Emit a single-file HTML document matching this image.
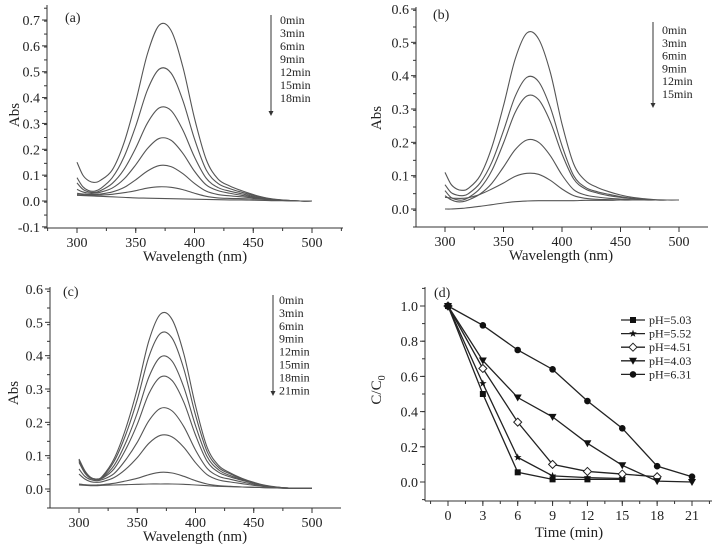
<!DOCTYPE html>
<html><head><meta charset="utf-8">
<style>
html,body{margin:0;padding:0;background:#fff;}
svg{display:block;}
svg text{font-family:"Liberation Serif","Times New Roman",serif;}
</style></head>
<body>
<svg id="fig" width="718" height="545" viewBox="0 0 718 545" font-family="Liberation Serif, Times New Roman, serif" xmlns="http://www.w3.org/2000/svg"></svg>
<script>
// ---------- data ----------
const wavelengths = [300,305,310,315,320,330,340,350,360,370,380,390,400,410,420,430,440,450,460,470,480,490,500];
const timesA = ["0min","3min","6min","9min","12min","15min","18min"];
const seriesA = [
 [0.150,0.100,0.078,0.072,0.080,0.120,0.225,0.385,0.570,0.680,0.660,0.520,0.320,0.160,0.085,0.058,0.040,0.025,0.013,0.006,0.002,0.000,0.000],
 [0.090,0.055,0.040,0.038,0.048,0.090,0.170,0.290,0.430,0.510,0.495,0.390,0.240,0.120,0.068,0.048,0.034,0.022,0.012,0.005,0.002,0.000,0.000],
 [0.070,0.045,0.035,0.033,0.040,0.068,0.122,0.205,0.302,0.360,0.350,0.275,0.170,0.088,0.052,0.038,0.028,0.018,0.010,0.005,0.002,0.000,0.000],
 [0.045,0.035,0.030,0.030,0.034,0.050,0.085,0.140,0.203,0.242,0.235,0.185,0.115,0.062,0.040,0.030,0.022,0.015,0.008,0.004,0.001,0.000,0.000],
 [0.030,0.027,0.025,0.025,0.027,0.035,0.052,0.082,0.116,0.137,0.133,0.106,0.068,0.038,0.025,0.020,0.016,0.012,0.007,0.003,0.001,0.000,0.000],
 [0.025,0.023,0.022,0.022,0.023,0.026,0.032,0.040,0.050,0.055,0.053,0.044,0.030,0.018,0.012,0.010,0.009,0.008,0.006,0.003,0.001,0.000,0.000],
 [0.022,0.021,0.020,0.019,0.018,0.016,0.014,0.012,0.011,0.010,0.009,0.008,0.007,0.006,0.005,0.004,0.004,0.003,0.002,0.001,0.001,0.000,0.000]
];
const timesB = ["0min","3min","6min","9min","12min","15min"];
const seriesB = [
 [0.110,0.075,0.060,0.056,0.062,0.100,0.185,0.310,0.450,0.528,0.510,0.410,0.255,0.135,0.085,0.065,0.052,0.042,0.035,0.031,0.028,0.027,0.027],
 [0.073,0.050,0.042,0.040,0.046,0.078,0.140,0.235,0.338,0.395,0.382,0.305,0.190,0.100,0.065,0.052,0.044,0.037,0.032,0.029,0.027,0.027,0.027],
 [0.055,0.035,0.028,0.027,0.034,0.062,0.115,0.198,0.290,0.339,0.328,0.262,0.165,0.090,0.060,0.048,0.040,0.035,0.031,0.029,0.027,0.027,0.027],
 [0.040,0.028,0.022,0.022,0.027,0.045,0.077,0.126,0.178,0.207,0.200,0.160,0.102,0.058,0.042,0.036,0.032,0.030,0.028,0.027,0.027,0.027,0.027],
 [0.035,0.033,0.032,0.032,0.034,0.044,0.060,0.078,0.098,0.107,0.104,0.086,0.060,0.040,0.032,0.029,0.028,0.027,0.027,0.027,0.027,0.027,0.027],
 [0.000,0.000,0.001,0.002,0.004,0.008,0.013,0.018,0.022,0.024,0.025,0.025,0.025,0.025,0.026,0.026,0.026,0.027,0.027,0.027,0.027,0.027,0.027]
];
const timesC = ["0min","3min","6min","9min","12min","15min","18min","21min"];
const seriesC = [
 [0.090,0.055,0.035,0.030,0.038,0.090,0.180,0.300,0.445,0.525,0.508,0.405,0.250,0.125,0.070,0.048,0.032,0.020,0.011,0.006,0.003,0.002,0.002],
 [0.088,0.053,0.034,0.030,0.036,0.082,0.162,0.268,0.397,0.467,0.452,0.360,0.222,0.112,0.064,0.045,0.030,0.019,0.010,0.005,0.003,0.002,0.002],
 [0.085,0.050,0.033,0.029,0.034,0.070,0.138,0.228,0.336,0.396,0.383,0.305,0.190,0.097,0.057,0.040,0.028,0.018,0.010,0.005,0.003,0.002,0.002],
 [0.080,0.048,0.032,0.028,0.032,0.060,0.118,0.194,0.286,0.336,0.325,0.260,0.162,0.083,0.050,0.036,0.026,0.017,0.009,0.005,0.003,0.002,0.002],
 [0.060,0.038,0.028,0.025,0.028,0.046,0.087,0.140,0.205,0.242,0.234,0.187,0.117,0.062,0.038,0.029,0.021,0.014,0.008,0.004,0.002,0.002,0.002],
 [0.045,0.030,0.022,0.020,0.022,0.034,0.059,0.094,0.137,0.161,0.156,0.125,0.079,0.043,0.027,0.021,0.016,0.011,0.007,0.004,0.002,0.002,0.002],
 [0.015,0.013,0.012,0.012,0.013,0.017,0.024,0.032,0.043,0.050,0.048,0.038,0.025,0.015,0.010,0.008,0.006,0.005,0.004,0.003,0.002,0.002,0.002],
 [0.012,0.011,0.010,0.010,0.011,0.012,0.013,0.014,0.015,0.015,0.015,0.014,0.012,0.010,0.008,0.007,0.006,0.005,0.004,0.003,0.002,0.002,0.002]
];
const timeD = [0,3,6,9,12,15,18,21];
const labelsD = ["pH=5.03","pH=5.52","pH=4.51","pH=4.03","pH=6.31"];
const markersD = ["square","star","diamond","tri","circle"];
const pH503 = [1.0,0.50,0.055,0.015,0.015,0.015];
const pH552 = [1.0,0.56,0.14,0.035,0.025,0.02];
const pH451 = [1.0,0.645,0.34,0.10,0.06,0.045,0.03];
const pH403 = [1.0,0.69,0.48,0.37,0.22,0.095,0.005,0.0];
const pH631 = [1.0,0.89,0.75,0.64,0.46,0.305,0.09,0.03];
const xTicksW = [300,350,400,450,500];
const yTicksA = [-0.1,0,0.1,0.2,0.3,0.4,0.5,0.6,0.7];
const yTicksBC = [0,0.1,0.2,0.3,0.4,0.5,0.6];
const xTicksD = [0,3,6,9,12,15,18,21];
const yTicksD = [0,0.2,0.4,0.6,0.8,1.0];

// ---------- helpers ----------
const NS="http://www.w3.org/2000/svg";
const FONT="Liberation Serif, Times New Roman, serif";
const svg=document.getElementById('fig');
function mk(tag,attrs,parent){const e=document.createElementNS(NS,tag);for(const k in attrs)e.setAttribute(k,attrs[k]);if(tag==='text')e.setAttribute('font-family',FONT);(parent||svg).appendChild(e);return e;}
function lin(d0,d1,r0,r1){return v=>r0+(v-d0)*(r1-r0)/(d1-d0);}
function smoothPath(pts){
  let d=`M${pts[0][0].toFixed(2)},${pts[0][1].toFixed(2)}`;
  for(let i=0;i<pts.length-1;i++){
    const p0=pts[Math.max(0,i-1)],p1=pts[i],p2=pts[i+1],p3=pts[Math.min(pts.length-1,i+2)];
    const c1=[p1[0]+(p2[0]-p0[0])/6,p1[1]+(p2[1]-p0[1])/6];
    const c2=[p2[0]-(p3[0]-p1[0])/6,p2[1]-(p3[1]-p1[1])/6];
    d+=`C${c1[0].toFixed(2)},${c1[1].toFixed(2)} ${c2[0].toFixed(2)},${c2[1].toFixed(2)} ${p2[0].toFixed(2)},${p2[1].toFixed(2)}`;
  }
  return d;
}
function axes(g,o){
  const ax=mk('g',{},g);
  
  
  mk('line',{x1:o.left,y1:o.bottom,x2:o.right,y2:o.bottom,stroke:'#333','stroke-width':1},ax);
  mk('line',{x1:o.left,y1:o.top,x2:o.left,y2:o.bottom,stroke:'#333','stroke-width':1},ax);
  for(const v of o.xMinor){const x=o.sx(v);if(x<o.left||x>o.right)continue;mk('line',{x1:x,y1:o.bottom,x2:x,y2:o.bottom+3,stroke:'#333'},ax);}
  for(const v of o.yMinor){const y=o.sy(v);if(y<o.top||y>o.bottom)continue;mk('line',{x1:o.left-3,y1:y,x2:o.left,y2:y,stroke:'#333'},ax);}
  for(const v of o.xt){const x=o.sx(v);mk('line',{x1:x,y1:o.bottom,x2:x,y2:o.bottom+5,stroke:'#333'},ax);
    const t=mk('text',{x:x,y:o.bottom+19,'font-size':14,'text-anchor':'middle',fill:'#222'},ax);t.textContent=o.fmtX(v);
    }
  for(const v of o.yt){const y=o.sy(v);mk('line',{x1:o.left-5,y1:y,x2:o.left,y2:y,stroke:'#333'},ax);
    const t=mk('text',{x:o.left-7,y:y+5,'font-size':14,'text-anchor':'end',fill:'#222'},ax);t.textContent=o.fmtY(v);
    }
}
function range(a,b,s){const r=[];for(let v=a;v<=b+1e-9;v+=s)r.push(+v.toFixed(4));return r;}
function spectrumPanel(id,o,series,times,legend){
  const g=mk('g',{});
  
  
  const sx=lin(o.x0,o.x1,o.left,o.right), sy=lin(o.y0,o.y1,o.bottom,o.top);
  axes(g,{left:o.left,right:o.right,top:o.top,bottom:o.bottom,sx,sy,xt:xTicksW,yt:o.yt,
    xMinor:range(275,525,25),yMinor:range(o.y0,o.y1,0.05),fmtX:v=>String(v),fmtY:v=>v.toFixed(1)});
  series.forEach((s,i)=>{
    const pts=wavelengths.map((w,j)=>[sx(w),sy(s[j])]);
    const p=mk('path',{d:smoothPath(pts),fill:'none',stroke:'#555','stroke-width':1.1},g);
    
    
  });
  const lab=mk('text',{x:o.lab[0],y:o.lab[1],'font-size':14,fill:'#222'},g);lab.textContent='('+id+')';
  
  const ar=mk('g',{},g);
  
  
  mk('line',{x1:legend.ax,y1:legend.ay0,x2:legend.ax,y2:legend.ay1-4,stroke:'#333','stroke-width':1},ar);
  mk('path',{d:`M${legend.ax-2.5},${legend.ay1-5} L${legend.ax+2.5},${legend.ay1-5} L${legend.ax},${legend.ay1} Z`,fill:'#333'},ar);
  times.forEach((t,i)=>{const e=mk('text',{x:legend.tx,y:legend.ty+i*legend.dy,'font-size':12,fill:'#222'},g);e.textContent=t;
    });
  const yt=mk('text',{x:0,y:0,'font-size':15,'text-anchor':'middle',fill:'#222',transform:`translate(${o.ytitle[0]},${o.ytitle[1]}) rotate(-90)`},g);yt.textContent='Abs';
  
  const xt=mk('text',{x:o.xtitle[0],y:o.xtitle[1],'font-size':15,'text-anchor':'middle',fill:'#222'},g);xt.textContent='Wavelength (nm)';
  
}

(function(){
  const sxs=(312-77)/200, sys=(201-20)/0.7;
  spectrumPanel('a',{left:47,right:343,top:5,bottom:228,x0:300-(77-47)/sxs,x1:300+(343-77)/sxs,y0:-(228-201)/sys,y1:(201-5)/sys,yt:yTicksA,
    lab:[65,22],ytitle:[19,115],xtitle:[195,261]},seriesA,timesA,{ax:271,ay0:15,ay1:116,tx:280,ty:24,dy:13});
})();
(function(){
  const sxs=(679-445)/200, sys=(209-9)/0.6;
  spectrumPanel('b',{left:416,right:708,top:7,bottom:227,x0:300-(445-416)/sxs,x1:300+(708-445)/sxs,y0:-(227-209)/sys,y1:(209-7)/sys,yt:yTicksBC,
    lab:[433,19],ytitle:[381,118],xtitle:[561,260]},seriesB,timesB,{ax:653,ay0:22,ay1:108,tx:662,ty:34,dy:12.8});
})();
(function(){
  const sxs=(312-79)/200, sys=(489-289)/0.6;
  spectrumPanel('c',{left:50,right:341,top:287,bottom:508,x0:300-(79-50)/sxs,x1:300+(341-79)/sxs,y0:-(508-489)/sys,y1:(489-287)/sys,yt:yTicksBC,
    lab:[63,296],ytitle:[18,393],xtitle:[195,541]},seriesC,timesC,{ax:273,ay0:295,ay1:396,tx:279,ty:304,dy:12.9});
})();

(function(){
  const g=mk('g',{});
  
  
  const left=425,right=712,top=287,bottom=501;
  const sx=lin(0,21,448,692), sy=lin(0,1,482,306);
  axes(g,{left,right,top,bottom,sx,sy,xt:xTicksD,yt:yTicksD,xMinor:range(-1.5,22.5,1.5),yMinor:range(-0.1,1.1,0.1),
    fmtX:v=>String(v),fmtY:v=>v.toFixed(1)});
  const all=[pH503,pH552,pH451,pH403,pH631];
  function marker(type,x,y,parent){
    let e;
    if(type==='square') e=mk('rect',{x:x-3,y:y-3,width:6,height:6,fill:'#111'},parent);
    else if(type==='star'){let d='';for(let k=0;k<10;k++){const r=k%2?1.6:4,a=-Math.PI/2+k*Math.PI/5;d+=(k?'L':'M')+(x+r*Math.cos(a)).toFixed(2)+','+(y+r*Math.sin(a)).toFixed(2);}e=mk('path',{d:d+'Z',fill:'#111'},parent);}
    else if(type==='diamond') e=mk('path',{d:`M${x},${y-4} L${x+4},${y} L${x},${y+4} L${x-4},${y} Z`,fill:'#fff',stroke:'#222','stroke-width':1},parent);
    else if(type==='tri') e=mk('path',{d:`M${x-4},${y-3} L${x+4},${y-3} L${x},${y+4} Z`,fill:'#111'},parent);
    else e=mk('circle',{cx:x,cy:y,r:3.3,fill:'#111'},parent);
    
    
  }
  all.forEach((s,i)=>{
    const sg=mk('g',{},g);
    
    
    const pts=s.map((v,j)=>[sx(timeD[j]),sy(v)]);
    mk('polyline',{points:pts.map(p=>p.join(',')).join(' '),fill:'none',stroke:'#222','stroke-width':1.3},sg);
    pts.forEach(p=>marker(markersD[i],p[0],p[1],sg));
  });
  labelsD.forEach((l,i)=>{
    const y=320+i*13.6;
    const lg=mk('g',{},g);
    
    
    mk('line',{x1:621,y1:y,x2:645,y2:y,stroke:'#222','stroke-width':1.3},lg);
    marker(markersD[i],633,y,lg);
    const t=mk('text',{x:649,y:y+4,'font-size':12,fill:'#222'},lg);t.textContent=l;
  });
  const lab=mk('text',{x:434,y:297,'font-size':14,fill:'#222'},g);lab.textContent='(d)';
  
  const yt=mk('text',{x:0,y:0,'font-size':15,'text-anchor':'middle',fill:'#222',transform:'translate(381,390) rotate(-90)'},g);
  
  yt.appendChild(document.createTextNode('C/C'));
  const sub=mk('tspan',{'font-size':10,dy:4},yt);sub.textContent='0';
  const xt=mk('text',{x:569,y:537,'font-size':15,'text-anchor':'middle',fill:'#222'},g);xt.textContent='Time (min)';
  
})();
</script>
</body></html>
